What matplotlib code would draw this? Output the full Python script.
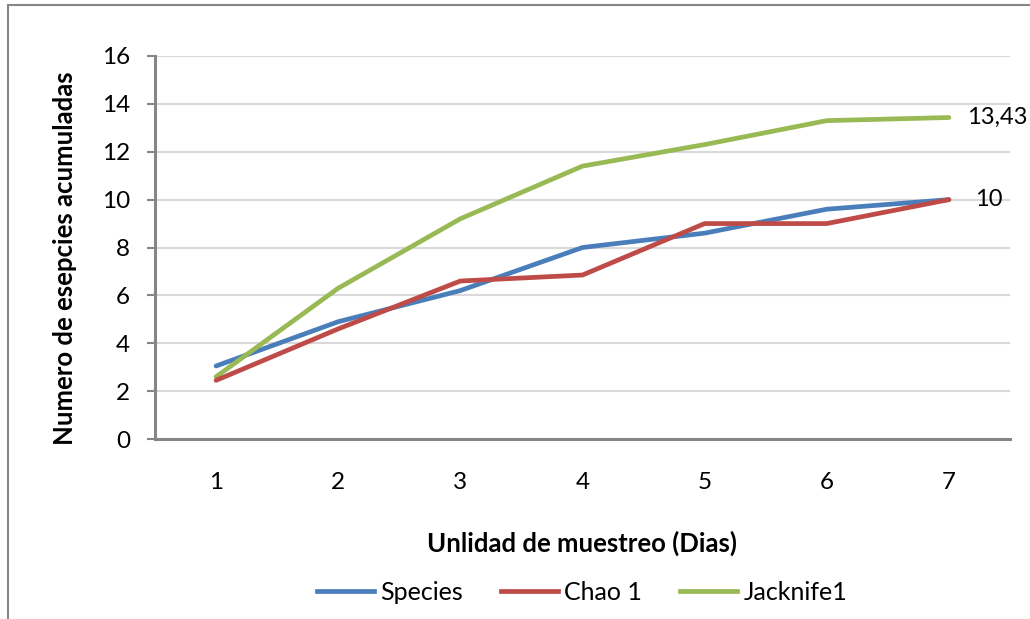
import numpy as np
import matplotlib.pyplot as plt
from matplotlib.lines import Line2D

days = [1, 2, 3, 4, 5, 6, 7]
species = [3.05, 4.9, 6.2, 8.0, 8.6, 9.6, 10.0]
chao1 = [2.45, 4.6, 6.6, 6.85, 9.0, 9.0, 10.0]
jack1 = [2.6, 6.3, 9.2, 11.4, 12.3, 13.3, 13.43]
y_ticks = [0, 2, 4, 6, 8, 10, 12, 14, 16]

plt.rcParams["font.family"] = ["Lato", "DejaVu Sans"]

W, H = 1030, 619
fig = plt.figure(figsize=(W / 100, H / 100), dpi=100)
ax = fig.add_axes([155 / W, 1 - 439 / H, (1010 - 155) / W, (439 - 56) / H])

colors = {"Species": "#4A7EBB", "Chao 1": "#BE4B48", "Jacknife1": "#98B954"}
ax.plot(days, species, color=colors["Species"], lw=3.4, solid_capstyle="round", zorder=3)
ax.plot(days, chao1, color=colors["Chao 1"], lw=3.4, solid_capstyle="round", zorder=4)
ax.plot(days, jack1, color=colors["Jacknife1"], lw=3.4, solid_capstyle="round", zorder=3)

ax.set_xlim(0.5, 7.5)
ax.set_ylim(0, 16)
ax.set_yticks(y_ticks)
ax.set_xticks(days)
ax.tick_params(axis="y", length=6, width=1.5, color="#868686", labelsize=17.5, pad=12)
ax.tick_params(axis="x", length=0, labelsize=17.5, pad=24)
ax.grid(True, axis="y", color="#D9D9D9", lw=1.5)
ax.set_axisbelow(True)
for s in ["top", "right"]:
    ax.spines[s].set_visible(False)
for s in ["left", "bottom"]:
    ax.spines[s].set_color("#868686")
    ax.spines[s].set_linewidth(2.2)

# end labels
ax.annotate(f"{jack1[-1]:.2f}".replace(".", ","), (days[-1], jack1[-1]), xytext=(13, 0),
            textcoords="offset points", va="center", ha="left", fontsize=17)
ax.annotate(f"{species[-1]:.0f}", (days[-1], species[-1]), xytext=(19, 0),
            textcoords="offset points", va="center", ha="left", fontsize=17)

fig.text(65 / W, 1 - 258 / H, "Numero de esepcies acumuladas", rotation=90,
         ha="center", va="center", fontsize=18.5, fontweight="bold")
fig.text(582 / W, 1 - 543 / H, "Unlidad de muestreo (Dias)", ha="center", va="center",
         fontsize=18.5, fontweight="bold")

handles = [Line2D([0], [0], color=c, lw=3.4) for c in colors.values()]
fig.legend(handles, list(colors.keys()), loc="center", bbox_to_anchor=(582 / W, 1 - 592 / H),
           ncol=3, frameon=False, fontsize=18, handlelength=2.3, columnspacing=1.5,
           handletextpad=0.25)

# outer chart frame (top and left visible)
fig.add_artist(Line2D([8 / W, 1], [1 - 5 / H, 1 - 5 / H], transform=fig.transFigure,
                      color="#868686", lw=1.5))
fig.add_artist(Line2D([8 / W, 8 / W], [0, 1 - 5 / H], transform=fig.transFigure,
                      color="#868686", lw=1.5))

fig.savefig("out.png", dpi=100)
